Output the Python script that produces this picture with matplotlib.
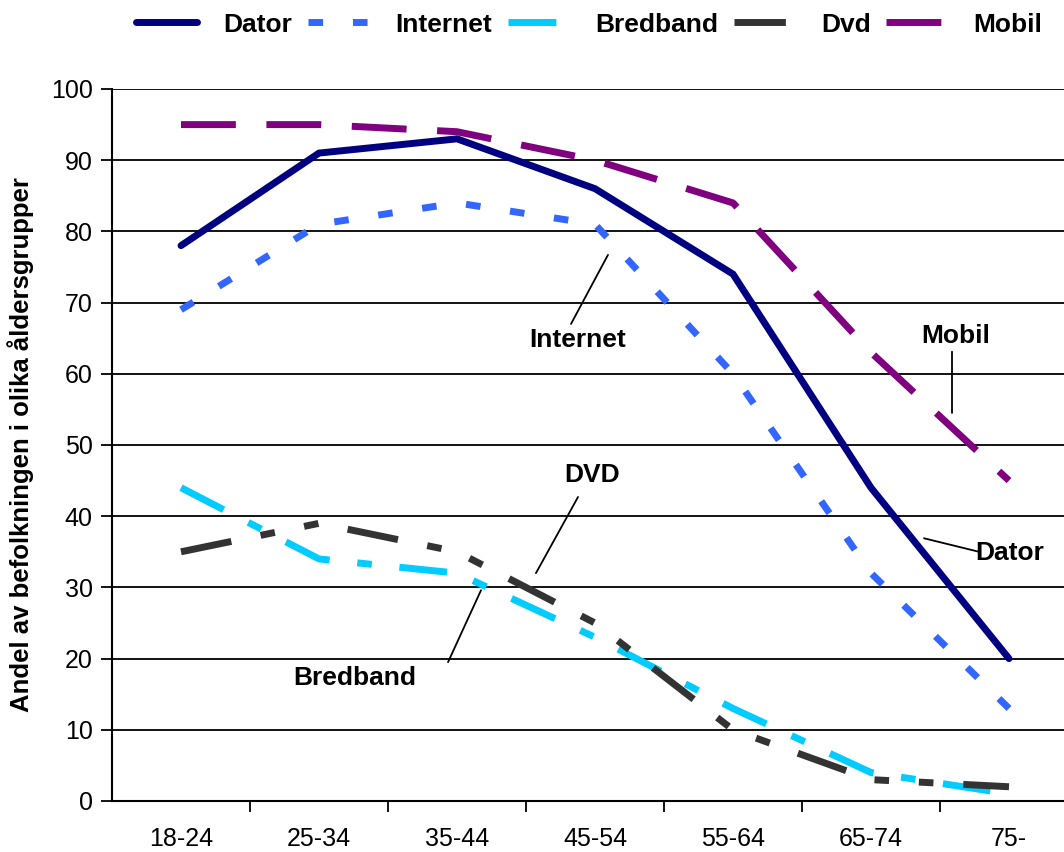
import matplotlib
matplotlib.use("Agg")
import matplotlib.pyplot as plt
from matplotlib.ticker import FixedLocator

plt.rcParams['font.family'] = ['Liberation Sans', 'DejaVu Sans']

categories = ["18-24", "25-34", "35-44", "45-54", "55-64", "65-74", "75-"]
dator    = [78, 91, 93, 86, 74, 44, 20]
internet = [69, 81, 84, 81, 60, 32, 13]
bredband = [44, 34, 32, 23, 13, 4, 1]
dvd      = [35, 39, 35, 25, 10, 3, 2]
mobil    = [95, 95, 94, 90, 84, 63, 45]
yticks = list(range(0, 101, 10))

fig = plt.figure(figsize=(10.64, 8.52), dpi=100)
ax = fig.add_axes([112/1064, 51/852, 966/1064, 712/852])

x = list(range(len(categories)))
lw = 5.0
l1, = ax.plot(x, dator, color='#000080', lw=lw, solid_capstyle='round', solid_joinstyle='miter', label='Dator', zorder=5)
l2, = ax.plot(x, internet, color='#3366FF', lw=lw, linestyle=(0, (2.1, 4.3)), label='Internet', zorder=4)
l3, = ax.plot(x, bredband, color='#00CCFF', lw=lw, linestyle=(0, (6.9, 4.0, 2.1, 4.0)), label='Bredband', zorder=4)
l4, = ax.plot(x, dvd, color='#333333', lw=lw, linestyle=(0, (7.4, 4.3, 2.1, 4.3, 2.1, 4.3)), label='Dvd', zorder=4)
l5, = ax.plot(x, mobil, color='#800080', lw=lw, linestyle=(0, (7.9, 4.4)), label='Mobil', zorder=4)

ax.set_xlim(-0.5, len(categories) - 0.5)
ax.set_ylim(0, 100)
ax.set_yticks(yticks)
ax.yaxis.grid(True, color='black', lw=1.3)
ax.set_axisbelow(True)
ax.set_xticks(x)
ax.set_xticklabels(categories, fontsize=18)
ax.xaxis.set_minor_locator(FixedLocator([i + 0.5 for i in range(len(categories) - 1)]))
ax.tick_params(axis='x', which='major', length=0, pad=19)
ax.tick_params(axis='x', which='minor', length=8, width=1.3, direction='out')
ax.tick_params(axis='y', length=8, width=1.3, direction='out', labelsize=18, pad=6)
for s in ['top', 'right']:
    ax.spines[s].set_visible(False)
for s in ['left', 'bottom']:
    ax.spines[s].set_linewidth(1.5)

ax.set_ylabel('Andel av befolkningen i olika åldersgrupper', fontsize=18.5, fontweight='bold')
ax.yaxis.set_label_coords(-0.081, 0.5)

# annotations
def label(text, pos, start, tip):
    ax.text(pos[0], pos[1], text, ha='center', va='center', fontsize=19, fontweight='bold', zorder=6)
    ax.annotate('', xy=tip, xytext=start,
                arrowprops=dict(arrowstyle='-', color='black', lw=1.3, shrinkA=0, shrinkB=0), zorder=6)

label('Internet', (2.877, 64.7), (2.826, 67.0), (3.094, 76.7))
label('Mobil', (5.616, 65.3), (5.587, 63.1), (5.587, 54.5))
label('DVD', (2.978, 45.8), (2.877, 42.7), (2.572, 32.0))
label('Bredband', (1.261, 17.3), (1.935, 19.5), (2.174, 29.6))
label('Dator', (6.007, 34.8), (5.783, 35.0), (5.384, 36.9))

fig.legend(handles=[l1, l2, l3, l4, l5], loc='center', bbox_to_anchor=(0.554, 0.971),
           ncol=5, frameon=False, prop={'size': 19, 'weight': 'bold'},
           handlelength=2.3, handletextpad=1.0, columnspacing=0.6)

fig.savefig('out.png', dpi=100)
